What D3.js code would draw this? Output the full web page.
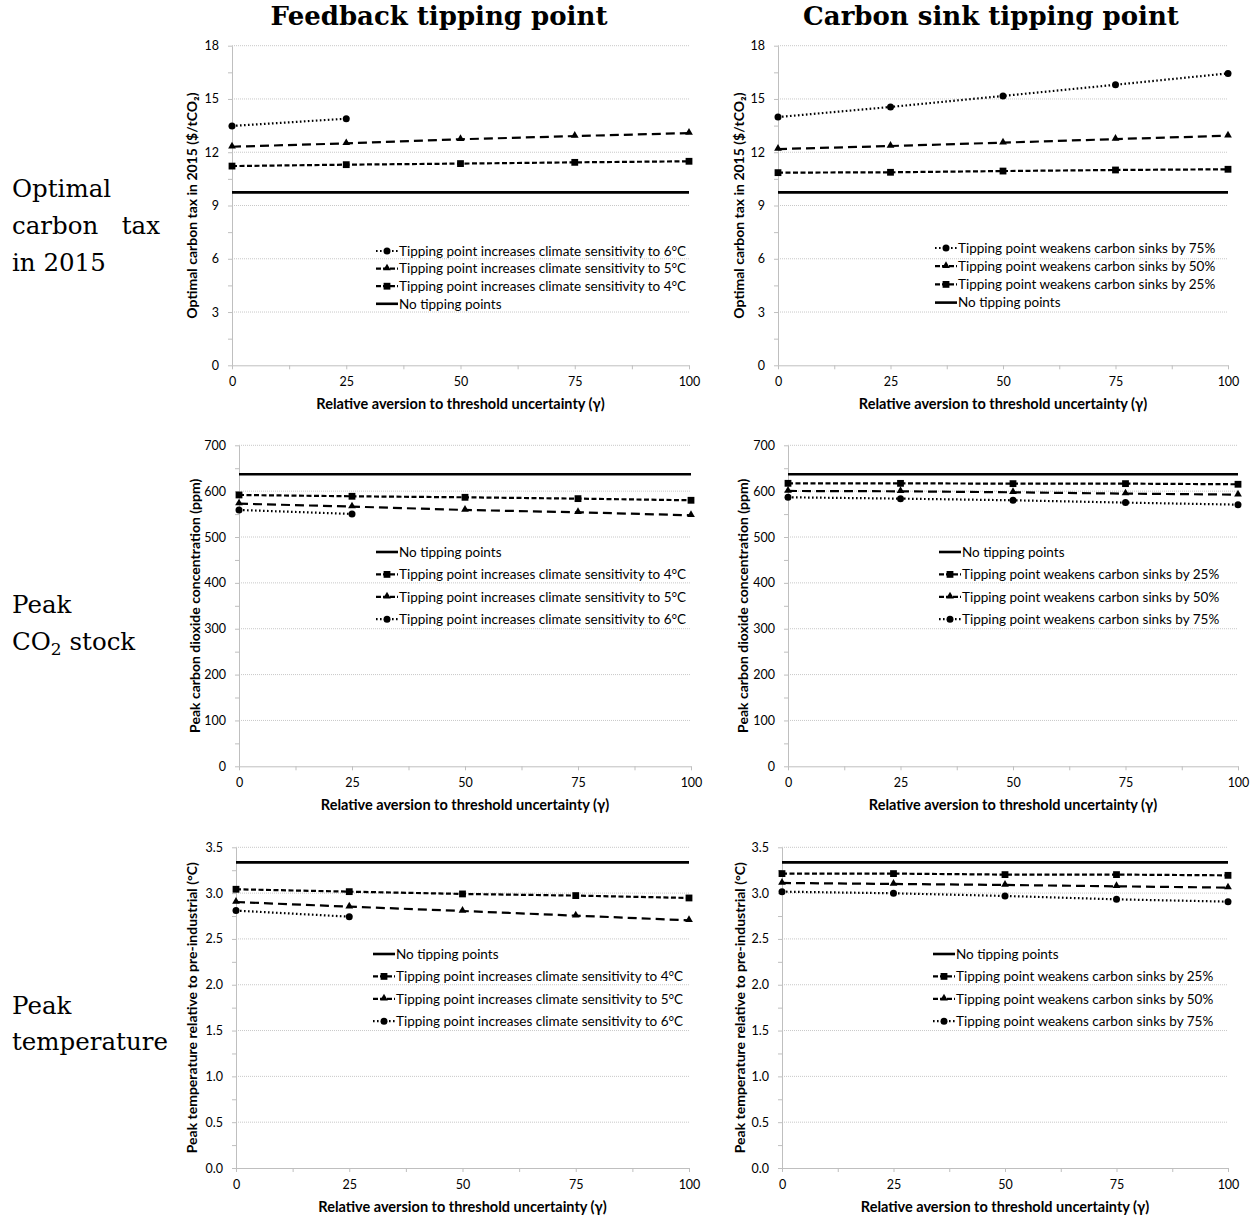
<!DOCTYPE html>
<html>
<head>
<meta charset="utf-8">
<script src="https://cdn.jsdelivr.net/npm/d3@7"></script>
<style>
  body { margin: 0; background: #fff; }
  svg text { fill: #000; }
</style>
</head>
<body>
<svg id="chart" width="1259" height="1220"></svg>
<script>
// x values shared by every panel
var gamma = [0, 25, 50, 75, 100];

// optimal carbon tax in 2015 ($/tCO2)
var taxNoTip     = [9.74, 9.74, 9.74, 9.74, 9.74];
var taxFeedback4 = [11.22, 11.30, 11.36, 11.43, 11.49];
var taxFeedback5 = [12.31, 12.50, 12.73, 12.91, 13.08];
var taxFeedback6 = [13.48, 13.89, null, null, null];
var taxSink25    = [10.85, 10.87, 10.94, 11.00, 11.04];
var taxSink50    = [12.18, 12.35, 12.54, 12.74, 12.93];
var taxSink75    = [13.98, 14.55, 15.17, 15.80, 16.44];

// peak CO2 concentration (ppm)
var co2NoTip     = [637, 637, 637, 637, 637];
var co2Feedback4 = [591.7, 588.8, 586.6, 583.7, 580.1];
var co2Feedback5 = [572.8, 566.3, 559.0, 553.9, 547.4];
var co2Feedback6 = [559.0, 550.3, null, null, null];
var co2Sink25    = [617.1, 617.0, 616.4, 616.4, 615.0];
var co2Sink50    = [600.4, 599.7, 597.5, 594.6, 592.4];
var co2Sink75    = [586.6, 583.7, 580.1, 575.0, 570.6];

// peak temperature relative to pre-industrial (°C)
var tempNoTip     = [3.336, 3.336, 3.336, 3.336, 3.336];
var tempFeedback4 = [3.042, 3.016, 2.991, 2.973, 2.947];
var tempFeedback5 = [2.903, 2.852, 2.805, 2.754, 2.703];
var tempFeedback6 = [2.809, 2.743, null, null, null];
var tempSink25    = [3.213, 3.213, 3.202, 3.202, 3.194];
var tempSink50    = [3.111, 3.100, 3.089, 3.074, 3.060];
var tempSink75    = [3.016, 2.998, 2.969, 2.932, 2.907];

// labels
var columnTitles = ["Feedback tipping point", "Carbon sink tipping point"];
var xTitle = "Relative aversion to threshold uncertainty (γ)";
var yTitles = ["Optimal carbon tax in 2015 ($/tCO₂)",
               "Peak carbon dioxide concentration (ppm)",
               "Peak temperature relative to pre-industrial (°C)"];
var xTicks = [0, 25, 50, 75, 100];
var yTicksTax  = [0, 3, 6, 9, 12, 15, 18];
var yTicksCo2  = [0, 100, 200, 300, 400, 500, 600, 700];
var yTicksTemp = [0, 0.5, 1, 1.5, 2, 2.5, 3, 3.5];

var lblNone = "No tipping points";
var lblFb4 = "Tipping point increases climate sensitivity to 4°C";
var lblFb5 = "Tipping point increases climate sensitivity to 5°C";
var lblFb6 = "Tipping point increases climate sensitivity to 6°C";
var lblSk25 = "Tipping point weakens carbon sinks by 25%";
var lblSk50 = "Tipping point weakens carbon sinks by 50%";
var lblSk75 = "Tipping point weakens carbon sinks by 75%";

// line / marker styles
var styles = {
  none: {dash: null,  width: 2.6, marker: null},
  a:    {dash: "5,2.5", width: 2.2, marker: "square"},
  b:    {dash: "9,5", width: 2.2, marker: "triangle"},
  c:    {dash: "1.6,2.4", width: 2.2, marker: "circle"}
};

var svg = d3.select("#chart");
var sansFont = "Lato, 'Open Sans', sans-serif";

// panel layout (pixel boxes)
var panels = [
  {box: [232, 689, 45.7, 365.3], yMax: 18, ticks: yTicksTax, fmt: d3.format("d"), yt: yTitles[0], ytx: 194,
   series: [["c", taxFeedback6, lblFb6], ["b", taxFeedback5, lblFb5], ["a", taxFeedback4, lblFb4], ["none", taxNoTip, lblNone]],
   legend: [376, 251, 17.6]},
  {box: [778, 1228, 45.7, 365.3], yMax: 18, ticks: yTicksTax, fmt: d3.format("d"), yt: yTitles[0], ytx: 741,
   series: [["c", taxSink75, lblSk75], ["b", taxSink50, lblSk50], ["a", taxSink25, lblSk25], ["none", taxNoTip, lblNone]],
   legend: [935, 248, 18.2]},
  {box: [239, 691, 445.3, 766.3], yMax: 700, ticks: yTicksCo2, fmt: d3.format("d"), yt: yTitles[1], ytx: 197,
   series: [["none", co2NoTip, lblNone], ["a", co2Feedback4, lblFb4], ["b", co2Feedback5, lblFb5], ["c", co2Feedback6, lblFb6]],
   legend: [376, 552, 22.4]},
  {box: [788, 1238, 445.3, 766.3], yMax: 700, ticks: yTicksCo2, fmt: d3.format("d"), yt: yTitles[1], ytx: 745,
   series: [["none", co2NoTip, lblNone], ["a", co2Sink25, lblSk25], ["b", co2Sink50, lblSk50], ["c", co2Sink75, lblSk75]],
   legend: [939, 552, 22.4]},
  {box: [236, 689, 847.3, 1168], yMax: 3.5, ticks: yTicksTemp, fmt: d3.format(".1f"), yt: yTitles[2], ytx: 194,
   series: [["none", tempNoTip, lblNone], ["a", tempFeedback4, lblFb4], ["b", tempFeedback5, lblFb5], ["c", tempFeedback6, lblFb6]],
   legend: [373, 954, 22.4]},
  {box: [782, 1228, 847.3, 1168], yMax: 3.5, ticks: yTicksTemp, fmt: d3.format(".1f"), yt: yTitles[2], ytx: 742,
   series: [["none", tempNoTip, lblNone], ["a", tempSink25, lblSk25], ["b", tempSink50, lblSk50], ["c", tempSink75, lblSk75]],
   legend: [933, 954, 22.4]}
];

function drawMarker(g, type, cx, cy) {
  if (type === "square") {
    g.append("rect").attr("x", cx - 3.4).attr("y", cy - 3.4).attr("width", 6.8).attr("height", 6.8).attr("fill", "#000");
  } else if (type === "triangle") {
    g.append("path").attr("d", d3.symbol().type(d3.symbolTriangle).size(26)())
      .attr("transform", "translate(" + cx + "," + (cy - 0.5) + ")").attr("fill", "#000");
  } else if (type === "circle") {
    g.append("circle").attr("cx", cx).attr("cy", cy).attr("r", 3.5).attr("fill", "#000");
  }
}

panels.forEach(function(p) {
  var x = d3.scaleLinear().domain([0, 100]).range([p.box[0], p.box[1]]);
  var y = d3.scaleLinear().domain([0, p.yMax]).range([p.box[3], p.box[2]]);
  var step = p.ticks[1] - p.ticks[0];
  var g = svg.append("g");

  // gridlines
  g.append("g").selectAll("line").data(p.ticks.slice(1)).enter().append("line")
    .attr("x1", p.box[0]).attr("x2", p.box[1])
    .attr("y1", function(d) { return y(d); }).attr("y2", function(d) { return y(d); })
    .attr("stroke", "#c8c8c8").attr("stroke-width", 1).attr("stroke-dasharray", "1,1");

  // y axis with minor ticks
  var minor = d3.range(0, p.yMax + step / 4, step / 2);
  var yAxis = g.append("g").attr("transform", "translate(" + p.box[0] + ",0)")
    .call(d3.axisLeft(y).tickValues(minor).tickSize(4).tickFormat(function(d) {
      return p.ticks.some(function(t) { return Math.abs(t - d) < 1e-9; }) ? p.fmt(d) : "";
    }).tickSizeOuter(0).tickPadding(9));
  yAxis.select(".domain").attr("stroke", "#bfbfbf");
  yAxis.selectAll("line").attr("stroke", "#bfbfbf");
  yAxis.selectAll("text").style("font-family", sansFont).style("font-size", "12.5px").attr("fill", "#222");

  // x axis
  var xAxis = g.append("g").attr("transform", "translate(0," + p.box[3] + ")")
    .call(d3.axisBottom(x).tickValues(d3.range(0, 100.1, 12.5)).tickSize(4).tickSizeOuter(0).tickPadding(8)
      .tickFormat(function(d) { return xTicks.indexOf(d) >= 0 ? d : ""; }));
  xAxis.select(".domain").attr("stroke", "#bfbfbf");
  xAxis.selectAll("line").attr("stroke", "#bfbfbf");
  xAxis.selectAll("text").style("font-family", sansFont).style("font-size", "12.5px").attr("fill", "#222");

  // axis titles
  g.append("text").attr("x", (p.box[0] + p.box[1]) / 2).attr("y", p.box[3] + 44)
    .attr("text-anchor", "middle").style("font-family", sansFont).style("font-weight", "bold").style("font-size", "14.5px")
    .text(xTitle);
  g.append("text").attr("transform", "translate(" + (p.ytx + 3) + "," + ((p.box[2] + p.box[3]) / 2) + ")rotate(-90)")
    .attr("text-anchor", "middle").style("font-family", sansFont).style("font-weight", "bold").style("font-size", "14px")
    .text(p.yt);

  // series
  p.series.forEach(function(s) {
    var st = styles[s[0]];
    var pts = gamma.map(function(gv, i) { return [gv, s[1][i]]; }).filter(function(d) { return d[1] !== null; });
    var line = d3.line().x(function(d) { return x(d[0]); }).y(function(d) { return y(d[1]); });
    g.append("path").datum(pts).attr("d", line).attr("fill", "none").attr("stroke", "#000")
      .attr("stroke-width", st.width).attr("stroke-dasharray", st.dash);
    if (st.marker) pts.forEach(function(d) { drawMarker(g, st.marker, x(d[0]), y(d[1])); });
  });

  // legend
  var lg = g.append("g");
  p.series.forEach(function(s, i) {
    var st = styles[s[0]];
    var ly = p.legend[1] + i * p.legend[2];
    var lx = p.legend[0];
    lg.append("line").attr("x1", lx).attr("x2", lx + 22).attr("y1", ly).attr("y2", ly)
      .attr("stroke", "#000").attr("stroke-width", st.width)
      .attr("stroke-dasharray", s[0] === "c" ? "1.6,2.4" : (s[0] === "none" ? null : "5,2"));
    if (st.marker) drawMarker(lg, st.marker, lx + 11, ly);
    lg.append("text").attr("x", lx + 23).attr("y", ly).attr("dy", "0.35em")
      .style("font-family", sansFont).style("font-size", "13.5px").text(s[2]);
  });
});

// column titles
var serif = "'DejaVu Serif', 'Liberation Serif', serif";
svg.append("text").attr("x", 439).attr("y", 25).attr("text-anchor", "middle")
  .style("font-family", serif).style("font-weight", "bold").style("font-size", "26px").text(columnTitles[0]);
svg.append("text").attr("x", 991).attr("y", 25).attr("text-anchor", "middle")
  .style("font-family", serif).style("font-weight", "bold").style("font-size", "26px").text(columnTitles[1]);

// row labels
function rowText(t, xx, yy, anchor) {
  return svg.append("text").attr("x", xx).attr("y", yy).attr("text-anchor", anchor || "start")
    .style("font-family", serif).style("font-size", "24.5px").text(t);
}
rowText("Optimal", 12, 197);
rowText("carbon", 12, 234);
rowText("tax", 160, 234, "end");
rowText("in 2015", 12, 271);
rowText("Peak", 12, 613);
var co2 = rowText("CO", 12, 650);
co2.append("tspan").attr("dy", 5).style("font-size", "17px").text("2");
co2.append("tspan").attr("dy", -5).text(" stock");
rowText("Peak", 12, 1014);
rowText("temperature", 12, 1050);
</script>
</body>
</html>
